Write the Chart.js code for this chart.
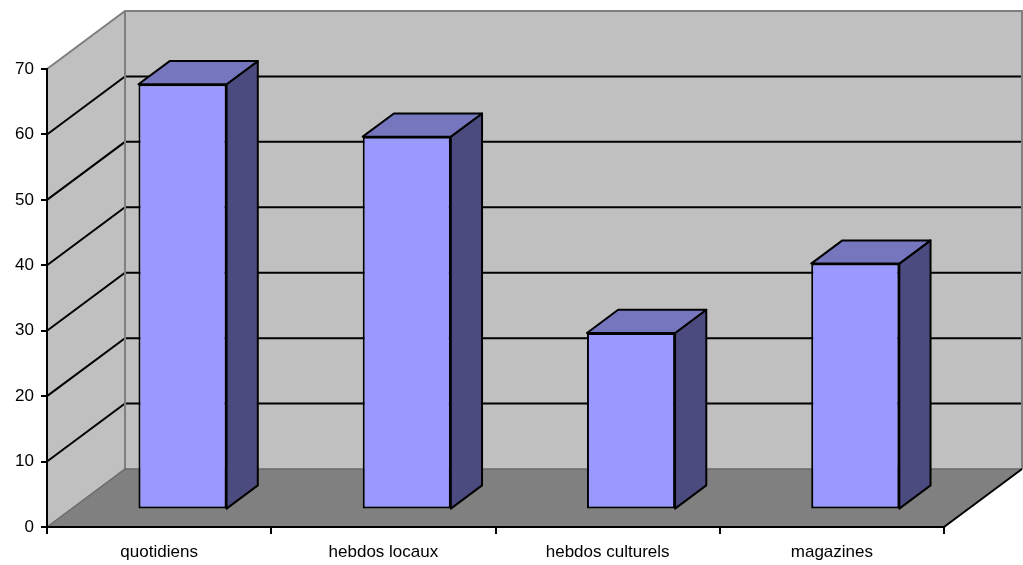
<!DOCTYPE html>
<html>
<head>
<meta charset="utf-8">
<script src="https://cdn.jsdelivr.net/npm/chart.js@4/dist/chart.umd.min.js"></script>
<style>
  html, body { margin: 0; padding: 0; background: #fff; }
  #wrap { width: 1023px; height: 565px; }
</style>
</head>
<body>
<div id="wrap"><canvas id="barChart3d"></canvas></div>
<script>
// données
const categories = ['quotidiens', 'hebdos locaux', 'hebdos culturels', 'magazines'];
const values = [65, 57, 27, 37.6];
const yTicks = [0, 10, 20, 30, 40, 50, 60, 70];

// effet 3D : profondeur du sol / des murs
const DEPTH = { x: 78, y: -58 };
const BAR_FRONT = 0.3;   // position de la face avant des barres
const BAR_DEPTH = 0.4;   // épaisseur des barres

function poly(ctx, pts, fill, stroke, lw) {
    ctx.beginPath();
    ctx.moveTo(pts[0][0], pts[0][1]);
    for (let i = 1; i < pts.length; i++) ctx.lineTo(pts[i][0], pts[i][1]);
    ctx.closePath();
    if (fill) { ctx.fillStyle = fill; ctx.fill(); }
    if (stroke) { ctx.strokeStyle = stroke; ctx.lineWidth = lw || 1; ctx.stroke(); }
}

function line(ctx, pts, color, lw) {
    ctx.beginPath();
    ctx.moveTo(pts[0][0], pts[0][1]);
    for (let i = 1; i < pts.length; i++) ctx.lineTo(pts[i][0], pts[i][1]);
    ctx.strokeStyle = color;
    ctx.lineWidth = lw;
    ctx.stroke();
}

const walls3d = {
    id: 'walls3d',
    beforeDraw(chart) {
        const { ctx, chartArea: a, scales } = chart;
        const y = scales.y;
        const dx = DEPTH.x, dy = DEPTH.y;
        const y0 = y.getPixelForValue(yTicks[0]);
        const yTop = y.getPixelForValue(yTicks[yTicks.length - 1]);
        ctx.save();
        // mur du fond
        poly(ctx, [[a.left + dx, yTop + dy], [a.right + dx, yTop + dy], [a.right + dx, y0 + dy], [a.left + dx, y0 + dy]], '#c0c0c0');
        // mur de gauche
        poly(ctx, [[a.left, yTop], [a.left + dx, yTop + dy], [a.left + dx, y0 + dy], [a.left, y0]], '#c0c0c0');
        // sol
        poly(ctx, [[a.left, y0], [a.right, y0], [a.right + dx, y0 + dy], [a.left + dx, y0 + dy]], '#808080');

        // quadrillage
        yTicks.slice(1, -1).forEach(v => {
            const py = y.getPixelForValue(v);
            line(ctx, [[a.left, py], [a.left + dx, py + dy], [a.right + dx, py + dy]], '#000', 2);
        });

        // arêtes grises
        line(ctx, [[a.left, yTop], [a.left + dx, yTop + dy], [a.right + dx, yTop + dy], [a.right + dx, y0 + dy]], '#7f7f7f', 2);
        line(ctx, [[a.left + dx, yTop + dy], [a.left + dx, y0 + dy]], '#7f7f7f', 2);
        line(ctx, [[a.left, y0], [a.left + dx, y0 + dy], [a.right + dx, y0 + dy]], '#6a6a6a', 1.5);
        line(ctx, [[a.right, y0], [a.right + dx, y0 + dy]], '#000', 2);
        ctx.restore();
    },
    beforeDatasetsDraw(chart) {
        const ctx = chart.ctx;
        ctx.save();
        ctx.translate(DEPTH.x * BAR_FRONT, DEPTH.y * BAR_FRONT);
    },
    afterDatasetsDraw(chart) {
        const ctx = chart.ctx;
        const bx = DEPTH.x * BAR_DEPTH, by = DEPTH.y * BAR_DEPTH;
        chart.getDatasetMeta(0).data.forEach(bar => {
            const p = bar.getProps(['x', 'y', 'base', 'width'], true);
            const l = p.x - p.width / 2, r = p.x + p.width / 2;
            ctx.lineJoin = 'round';
            // face de droite
            poly(ctx, [[r, p.y], [r + bx, p.y + by], [r + bx, p.base + by], [r, p.base]], '#4b4b7f', '#000', 2);
            // dessus
            poly(ctx, [[l, p.y], [l + bx, p.y + by], [r + bx, p.y + by], [r, p.y]], '#7676bf', '#000', 2);
        });
        ctx.restore();
    }
};

const font = { family: '"Liberation Sans", Arial, sans-serif', size: 17 };

new Chart(document.getElementById('barChart3d'), {
    type: 'bar',
    data: {
        labels: categories,
        datasets: [{
            data: values,
            backgroundColor: '#9999ff',
            borderColor: '#000',
            borderWidth: 2,
            borderSkipped: false,
            categoryPercentage: 1,
            barPercentage: 0.393,
            clip: false
        }]
    },
    options: {
        responsive: true,
        maintainAspectRatio: false,
        animation: false,
        events: [],
        layout: { padding: { top: 69, right: 79, left: 0, bottom: 0 } },
        plugins: { legend: { display: false }, tooltip: { enabled: false } },
        scales: {
            x: {
                grid: { drawOnChartArea: false, color: '#000', tickLength: 7, lineWidth: 2, offset: true },
                border: { color: '#000', width: 2 },
                ticks: { color: '#000', font: font, padding: 8, maxRotation: 0 },
                afterFit(scale) { scale.height = 38; }
            },
            y: {
                min: yTicks[0],
                max: yTicks[yTicks.length - 1],
                grid: { drawOnChartArea: false, color: '#000', tickLength: 6, lineWidth: 2 },
                border: { color: '#000', width: 2 },
                ticks: {
                    stepSize: 10,
                    color: '#000',
                    font: font,
                    padding: 7
                },
                afterFit(scale) { scale.width = 47; }
            }
        }
    },
    plugins: [walls3d]
});
</script>
</body>
</html>
